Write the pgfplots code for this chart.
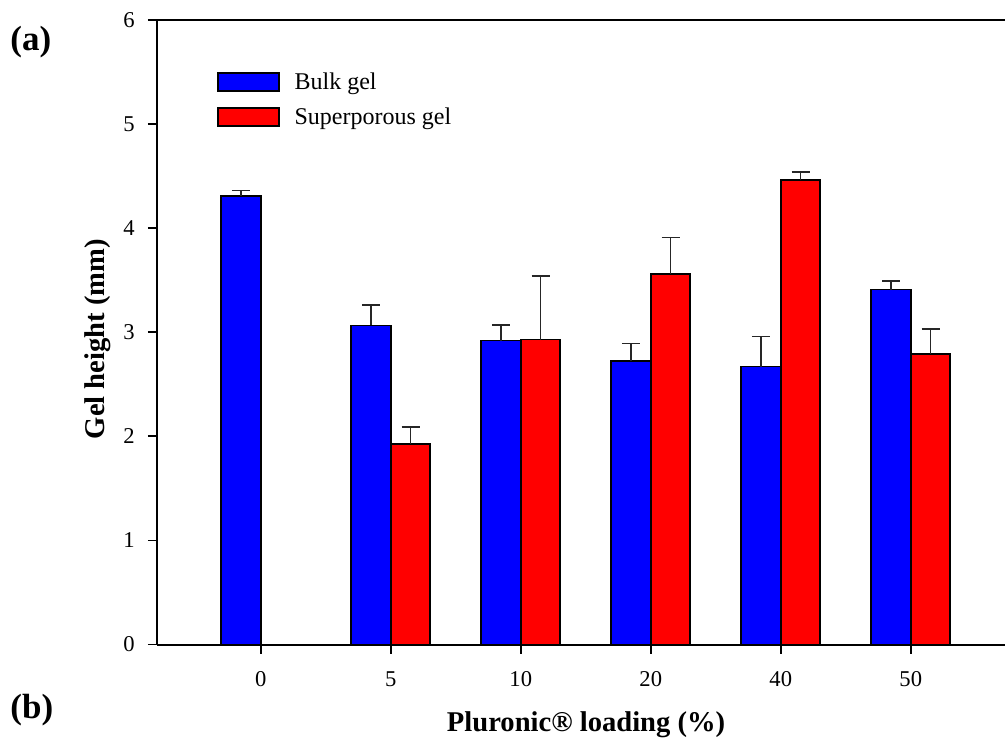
\documentclass[border=0pt]{standalone}
\usepackage{fontspec}
\setmainfont{Liberation Serif}
\usepackage{pgfplots}
\usepackage{pgfplotstable}
\pgfplotsset{compat=1.18}

\definecolor{bulkblue}{RGB}{0,0,255}
\definecolor{superred}{RGB}{255,0,0}

% Gel height (mm) with upper error bar.
% Categories sit at 0..5; each bar centre is offset by half a bar width.
\pgfplotstableread{
x       h      err
-0.152  4.31   0.05
0.848   3.065  0.195
1.848   2.92   0.15
2.848   2.72   0.17
3.848   2.67   0.29
4.848   3.41   0.085
}\bulkdata

\pgfplotstableread{
x       h      err
1.152   1.93   0.16
2.152   2.93   0.61
3.152   3.56   0.35
4.152   4.46   0.08
5.152   2.79   0.24
}\superdata

\begin{document}
\begin{tikzpicture}
\useasboundingbox (-78.5pt,-46.75pt) rectangle (424pt,322.25pt);
\begin{axis}[
  scale only axis,
  width=424pt, height=312.25pt,
  xmin=-0.798, xmax=5.725,
  ymin=0, ymax=6,
  axis x line*=box,
  axis y line*=left,
  axis line style={line width=1pt},
  xtick={0,1,2,3,4,5},
  xticklabels={0,5,10,20,40,50},
  ytick={0,1,2,3,4,5,6},
  xtick pos=bottom, ytick pos=left,
  tick align=outside,
  major tick length=4.5pt,
  tick style={line width=0.9pt, black},
  /pgf/number format/assume math mode=true,
  ticklabel style={font=\fontsize{11.3}{13}\selectfont},
  xticklabel style={inner sep=0pt, anchor=north, yshift=-9pt},
  yticklabel style={inner sep=0pt, anchor=east, xshift=-6.5pt},
  xlabel={\textbf{Pluronic® loading (\%)}},
  ylabel={\textbf{Gel height (mm)}},
  label style={font=\fontsize{14.3}{16}\selectfont},
  xlabel style={at={(axis description cs:0.506,0)}, anchor=base, yshift=-43.25pt},
  ylabel style={at={([xshift=-26pt]axis description cs:0,0.489)}, anchor=base},
  legend style={
    draw=none, fill=none,
    at={(axis description cs:0.0708,0.9167)}, anchor=north west,
    inner sep=0pt, outer sep=0pt,
    row sep=7.75pt,
    nodes={inner sep=0pt, text height=8pt, text depth=0pt, anchor=west},
    font=\fontsize{12}{14}\selectfont,
    /tikz/every odd column/.append style={column sep=7.5pt},
  },
  legend cell align=left,
  legend image code/.code={\draw[#1, line width=0.8pt] (0pt,-4.5pt) rectangle (30.5pt,4.5pt);},
  error bars/error bar style={line width=0.8pt, black!85},
  error bars/error mark options={rotate=90, mark size=4.5pt, line width=0.8pt, black!85},
]
\addplot[ybar, bar width=0.304, bar shift=0, fill=bulkblue, draw=black, line width=0.9pt,
  error bars/.cd, y dir=plus, y explicit]
  table[x=x, y=h, y error=err] {\bulkdata};
\addlegendentry{Bulk gel}
\addplot[ybar, bar width=0.304, bar shift=0, fill=superred, draw=black, line width=0.9pt,
  error bars/.cd, y dir=plus, y explicit]
  table[x=x, y=h, y error=err] {\superdata};
\addlegendentry{Superporous gel}
\end{axis}
\node[anchor=base west, inner sep=0pt, font=\fontsize{17.5}{20}\selectfont\bfseries] at (-73.5pt,296.75pt) {(a)};
\node[anchor=base west, inner sep=0pt, font=\fontsize{17.5}{20}\selectfont\bfseries] at (-73.5pt,-36.75pt) {(b)};
\end{tikzpicture}
\end{document}
